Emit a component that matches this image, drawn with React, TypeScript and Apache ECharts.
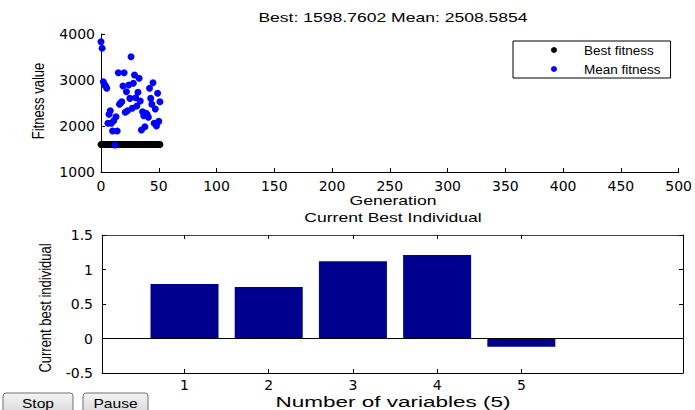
import React, { useEffect, useRef } from "react";
import * as echarts from "echarts";

const generations = [0,1,2,3,4,5,6,7,8,9,10,11,12,13,14,15,16,17,18,19,20,21,22,23,24,25,26,27,28,29,30,31,32,33,34,35,36,37,38,39,40,41,42,43,44,45,46,47,48,49,50,51];
const bestFitness = [1598.76,1598.76,1598.76,1598.76,1598.76,1598.76,1598.76,1598.76,1598.76,1598.76,1598.76,1598.76,1598.76,1598.76,1598.76,1598.76,1598.76,1598.76,1598.76,1598.76,1598.76,1598.76,1598.76,1598.76,1598.76,1598.76,1598.76,1598.76,1598.76,1598.76,1598.76,1598.76,1598.76,1598.76,1598.76,1598.76,1598.76,1598.76,1598.76,1598.76,1598.76,1598.76,1598.76,1598.76,1598.76,1598.76,1598.76,1598.76,1598.76,1598.76,1598.76,1598.76];
const meanFitness = [3833,3689,2963,2900,2870,2820,2059,2254,2333,2060,1891,2115,1587,2202,1891,3159,2472,2500,2528,2870,3159,2300,2746,2333,2891,2600,3507,2385,2928,3109,2615,2435,2733,3037,2544,1913,2311,2224,1985,2276,2250,2189,2820,2600,2472,2941,2059,2370,2000,2711,2100,2528];

const variableIndex = [1, 2, 3, 4, 5];
const bestIndividual = [0.79, 0.746, 1.12, 1.21, -0.12];

const genTicks = { min: 0, max: 500, interval: 50 };
const fitTicks = { min: 1000, max: 4000, interval: 1000 };
const varTicks = [1, 2, 3, 4, 5];
const varRange = { min: 0.02, max: 6.92 };
const indTicks = { min: -0.5, max: 1.5, interval: 0.5 };

const titleText = "Best: 1598.7602 Mean: 2508.5854";

const LABEL_FONT = "DejaVu Sans";
const TEXT_FONT = "Liberation Sans";

export default function App() {
  const ref = useRef<HTMLDivElement>(null);
  useEffect(() => {
    if (!ref.current) return;
    const chart = echarts.init(ref.current, undefined, { renderer: "svg" });
    const plain = (v: number) => String(v);
    const axisLabel = { color: "#000", fontFamily: LABEL_FONT, fontSize: 14, margin: 7, formatter: plain };
    const axisLine = { show: true, onZero: false, lineStyle: { color: "#000", width: 1 } };
    const axisTick = { show: true, inside: true, length: 4, lineStyle: { color: "#000" } };
    const txt = (text: string, x: number, y: number, rot = 0, sx = 1.35, size = 13, sy = 1) => ({
      type: "text",
      x,
      y,
      rotation: rot,
      scaleX: sx,
      scaleY: sy,
      style: {
        text,
        fill: "#000",
        font: `${size}px '${TEXT_FONT}'`,
        textAlign: "center",
        textVerticalAlign: "middle",
      },
    });
    const button = (label: string, x: number, w: number) => ({
      type: "group",
      children: [
        {
          type: "rect",
          shape: { x, y: 393, width: w, height: 22, r: 3 },
          style: {
            fill: new echarts.graphic.LinearGradient(0, 0, 0, 1, [
              { offset: 0, color: "#f4f4f4" },
              { offset: 1, color: "#d8d8d8" },
            ]),
            stroke: "#707070",
            lineWidth: 1,
          },
        },
        txt(label, x + w / 2, 403, 0, 1.2, 13),
      ],
    });
    chart.setOption({
      animation: false,
      backgroundColor: "#fff",
      grid: [
        { left: 101, top: 34, width: 583, height: 138 },
        { left: 102, top: 235, width: 581, height: 138 },
      ],
      legend: {
        data: ["Best fitness", "Mean fitness"],
        orient: "vertical",
        left: 513,
        top: 41,
        icon: "circle",
        itemWidth: 6,
        itemHeight: 6,
        itemGap: 5,
        padding: [2, 10, 2, 38],
        backgroundColor: "#fff",
        borderColor: "#000",
        borderWidth: 1,
        borderRadius: 0,
        selectedMode: false,
        textStyle: {
          color: "#000",
          fontFamily: TEXT_FONT,
          fontSize: 13.5,
          lineHeight: 13,
          padding: [0, 0, 0, 22],
        },
      },
      xAxis: [
        {
          gridIndex: 0,
          type: "value",
          ...genTicks,
          axisLine,
          axisTick,
          axisLabel,
          splitLine: { show: false },
        },
        {
          gridIndex: 1,
          type: "value",
          ...varRange,
          axisLine,
          axisTick: { ...axisTick, customValues: varTicks },
          axisLabel: { ...axisLabel, margin: 5, customValues: varTicks },
          splitLine: { show: false },
        },
        {
          gridIndex: 1,
          type: "value",
          position: "top",
          ...varRange,
          axisLine: { show: true, onZero: false, lineStyle: { color: "#444", width: 1 } },
          axisTick: { ...axisTick, customValues: varTicks },
          axisLabel: { show: false },
          splitLine: { show: false },
        },
      ],
      yAxis: [
        {
          gridIndex: 0,
          type: "value",
          ...fitTicks,
          axisLine,
          axisTick,
          axisLabel: { ...axisLabel, margin: 6 },
          splitLine: { show: false },
        },
        {
          gridIndex: 1,
          type: "value",
          ...indTicks,
          axisLine,
          axisTick,
          axisLabel: { ...axisLabel, margin: 9 },
          splitLine: { show: false },
        },
        {
          gridIndex: 1,
          type: "value",
          position: "right",
          ...indTicks,
          axisLine,
          axisTick,
          axisLabel: { show: false },
          splitLine: { show: false },
        },
      ],
      series: [
        {
          name: "Best fitness",
          type: "scatter",
          xAxisIndex: 0,
          yAxisIndex: 0,
          symbol: "circle",
          symbolSize: 7,
          itemStyle: { color: "#000", opacity: 1 },
          data: generations.map((g, i) => [g, bestFitness[i]]),
        },
        {
          name: "Mean fitness",
          type: "scatter",
          xAxisIndex: 0,
          yAxisIndex: 0,
          symbol: "circle",
          symbolSize: 7,
          itemStyle: { color: "#0000ff", opacity: 1 },
          data: generations.map((g, i) => [g, meanFitness[i]]),
        },
        {
          name: "Current best individual",
          type: "bar",
          xAxisIndex: 1,
          yAxisIndex: 1,
          barWidth: 68,
          itemStyle: { color: "#00008f" },
          data: variableIndex.map((v, i) => [v, bestIndividual[i]]),
          markLine: {
            silent: true,
            symbol: "none",
            label: { show: false },
            lineStyle: { color: "#000", type: "solid", width: 1 },
            data: [{ yAxis: 0 }],
          },
        },
      ],
      graphic: [
        txt(titleText, 393, 17),
        txt("Generation", 393, 200),
        txt("Fitness value", 38, 101, Math.PI / 2, 1, 13, 1.25),
        txt("Current Best Individual", 393, 217),
        txt("Number of variables (5)", 393, 402, 0, 1.5, 15),
        txt("Current best individual", 45, 308, Math.PI / 2, 1, 13, 1.25),
        button("Stop", 3, 70),
        button("Pause", 83, 65),
      ],
    });
    return () => chart.dispose();
  }, []);
  return (
    <div
      ref={ref}
      style={{ position: "absolute", left: 0, top: 0, width: 695, height: 410 }}
    />
  );
}
